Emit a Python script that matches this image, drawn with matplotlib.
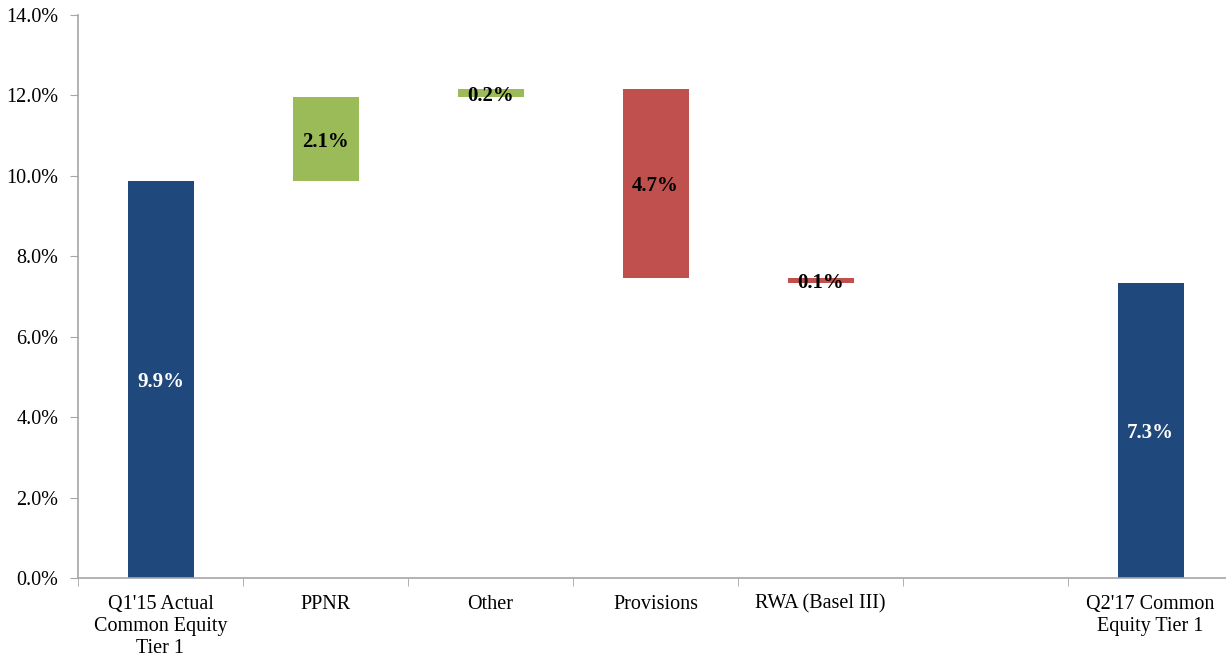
import numpy as np
import matplotlib.pyplot as plt
from matplotlib.ticker import FuncFormatter, FixedLocator

plt.rcParams['font.family'] = ['Liberation Serif', 'DejaVu Serif']

# waterfall data (percent of RWA)
categories = ["Q1'15 Actual\nCommon Equity\nTier 1", "PPNR", "Other", "Provisions",
              "RWA (Basel III)", "", "Q2'17 Common\nEquity Tier 1"]
start_value = 9.88
changes = [2.07, 0.20, -4.70, -0.12]   # PPNR, Other, Provisions, RWA
end_slot = 6

navy = '#1F497D'
green = '#9BBB59'
red = '#C0504D'
axis_gray = '#A6A6A6'

fig = plt.figure(figsize=(12.26, 6.58), dpi=100)
ax = fig.add_axes([78/1226, 80/658, 1155/1226, 563/658])

width = 0.4
lab_size = 15

# starting bar
ax.bar(0, start_value, width=width, color=navy)
ax.text(0, start_value/2, f"{start_value:.1f}%", ha='center', va='center_baseline',
        color='white', fontsize=lab_size, fontweight='bold')

# floating change bars
level = start_value
for i, d in enumerate(changes):
    x = i + 1
    bottom = level if d >= 0 else level + d
    ax.bar(x, abs(d), bottom=bottom, width=width, color=green if d >= 0 else red)
    ax.text(x, bottom + abs(d)/2, f"{abs(d):.1f}%", ha='center', va='center_baseline',
            color='black', fontsize=lab_size, fontweight='bold')
    level += d

# ending bar
ax.bar(end_slot, level, width=width, color=navy)
ax.text(end_slot, level/2, f"{level:.1f}%", ha='center', va='center_baseline',
        color='white', fontsize=lab_size, fontweight='bold')

ax.set_xlim(-0.5, len(categories) - 0.5)
ax.set_ylim(0, 14)
ax.set_yticks(np.arange(0, 14.1, 2))
ax.yaxis.set_major_formatter(FuncFormatter(lambda v, p: f"{v:.1f}%"))

ax.set_xticks(range(len(categories)))
ax.set_xticklabels(categories, fontsize=14.5, linespacing=1.22)
ax.xaxis.set_minor_locator(FixedLocator(np.arange(-0.5, len(categories) - 0.5, 1)))
ax.tick_params(axis='x', which='major', length=0, pad=12)
ax.tick_params(axis='x', which='minor', length=6, color=axis_gray, direction='out')
ax.tick_params(axis='y', labelsize=14.5, length=6, color=axis_gray, direction='out', pad=8)

for side in ['top', 'right']:
    ax.spines[side].set_visible(False)
for side in ['left', 'bottom']:
    ax.spines[side].set_color(axis_gray)
    ax.spines[side].set_linewidth(1.2)

fig.savefig('out.png', dpi=100)
